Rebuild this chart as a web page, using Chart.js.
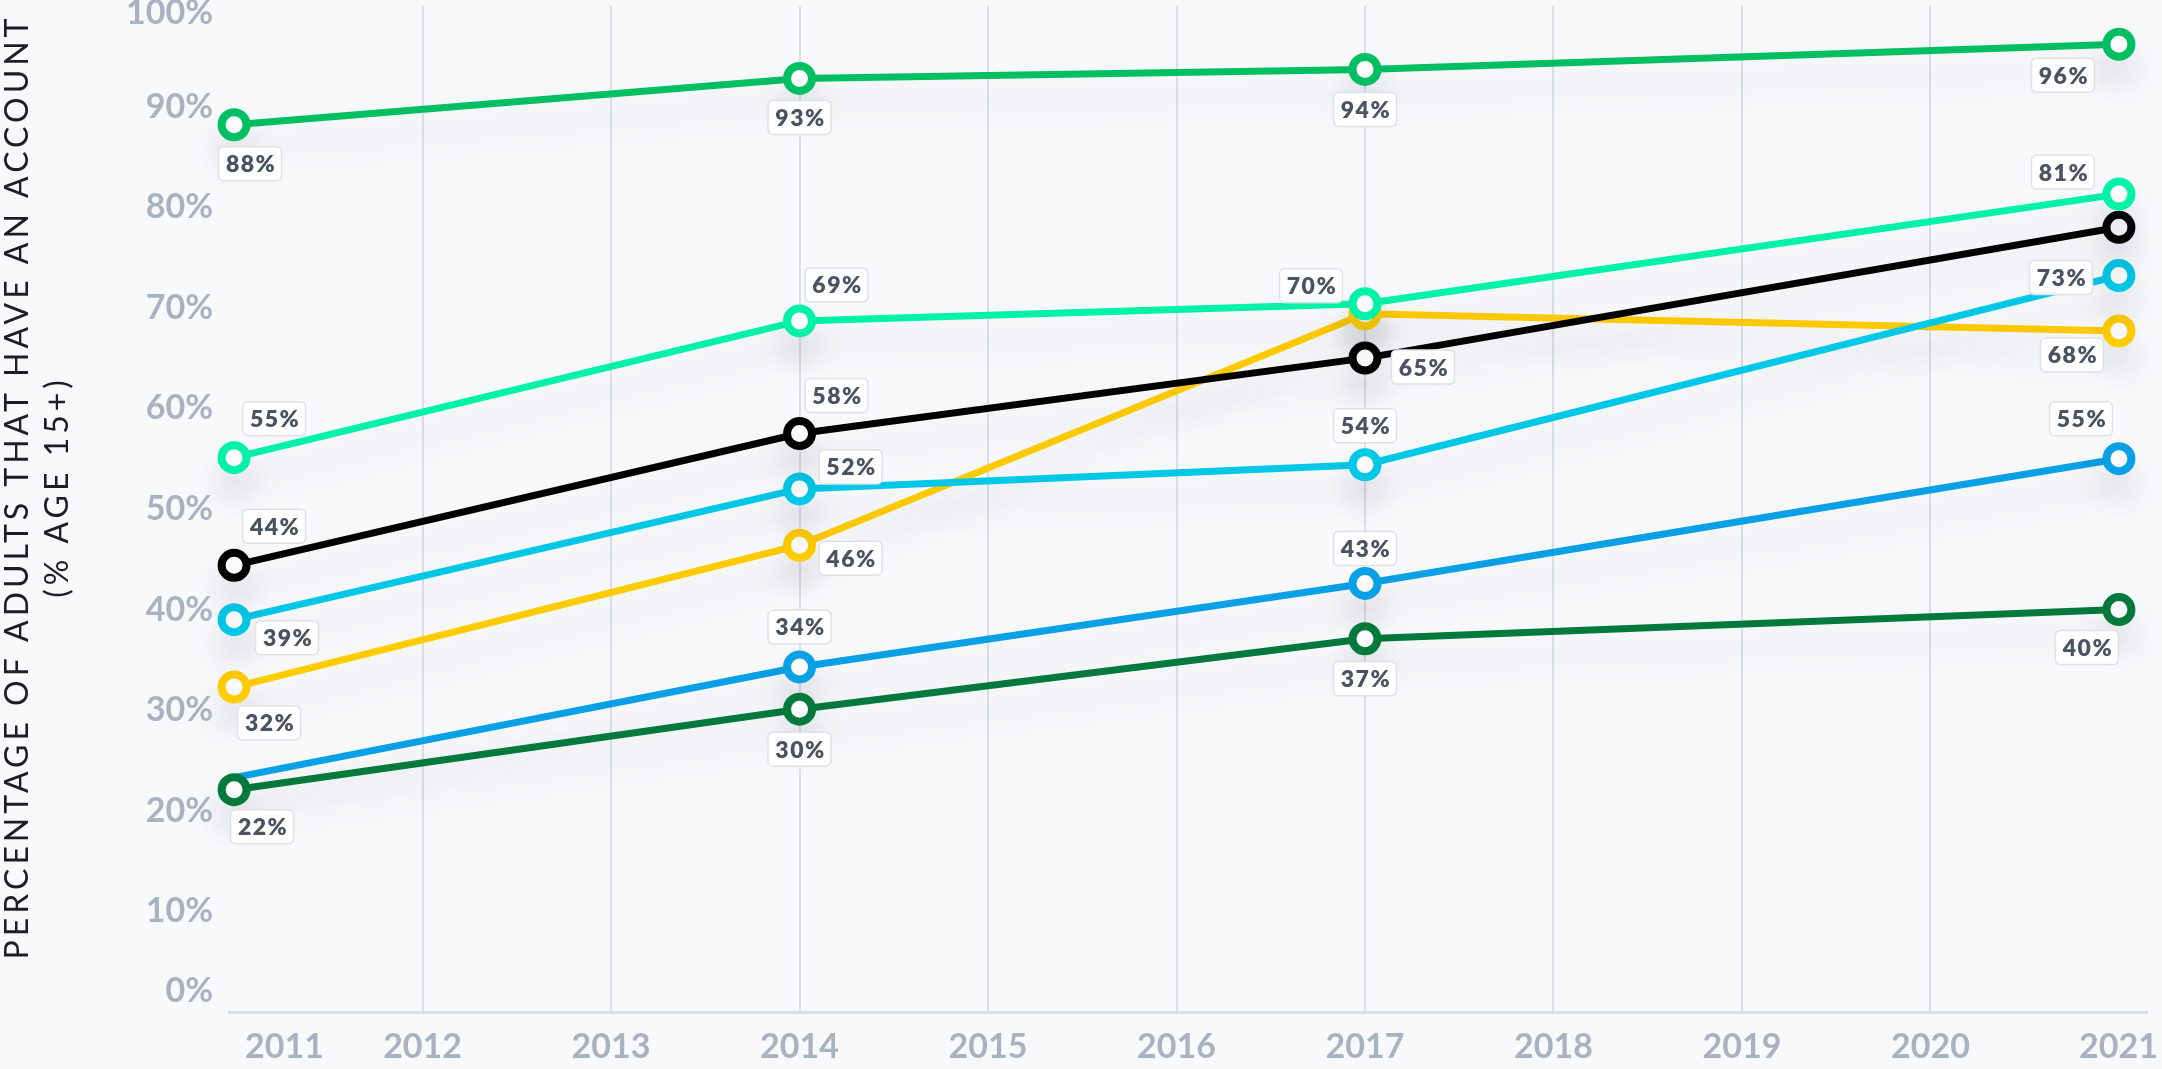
<!DOCTYPE html>
<html lang="en">
<head>
  <meta charset="UTF-8">
  <title>Account ownership</title>
  <style>
    html, body {
      margin: 0;
      padding: 0;
      background: #f8f9fb;
    }
    .chart-container {
      position: relative;
      width: 2162px;
      height: 1069px;
    }
  </style>
</head>
<body>
  <div class="chart-container">
    <canvas id="accountChart"></canvas>
  </div>

  <script src="https://cdn.jsdelivr.net/npm/chart.js"></script>
  <script>
    // survey years and axis ticks
    const years = [2011, 2014, 2017, 2021];
    const xTickYears = [2011, 2012, 2013, 2014, 2015, 2016, 2017, 2018, 2019, 2020, 2021];
    const yTickValues = [0, 10, 20, 30, 40, 50, 60, 70, 80, 90, 100];
    const yTitle = ['PERCENTAGE OF ADULTS THAT HAVE AN ACCOUNT', '(% AGE 15+)'];

    // share of adults with an account, one array per line
    const greenValues = [88.2, 92.8, 93.7, 96.2];
    const mintValues = [55.1, 68.7, 70.4, 81.3];
    const blackValues = [44.4, 57.5, 65.0, 78.0];
    const cyanValues = [39.0, 52.0, 54.4, 73.2];
    const darkGreenValues = [22.1, 30.1, 37.1, 40.0];
    const blueValues = [23.3, 34.3, 42.6, 55.0];
    const yellowValues = [32.3, 46.4, 69.4, 67.7];

    // where each value box sits relative to its point (null = no box)
    const greenLabelPos = [[16, 39], [0, 39], [0, 40], [-56, 31]];
    const mintLabelPos = [[40, -39], [37, -36], [-54, -18], [-56, -22]];
    const blackLabelPos = [[40, -39], [37, -38], [58, 9], null];
    const cyanLabelPos = [[53, 18], [51, -22], [0, -39], [-58, 2]];
    const darkGreenLabelPos = [[28, 37], [0, 40], [0, 40], [-32, 38]];
    const blueLabelPos = [null, [0, -40], [0, -35], [-38, -40]];
    const yellowLabelPos = [[35, 36], [51, 13], null, [-47, 24]];

    // the 2011 blue marker is not shown in the original
    const bluePointRadius = [0, 12.5, 12.5, 12.5];

    function makeSet(values, color, labelPos, radius) {
      return {
        data: years.map((yr, i) => ({ x: yr, y: values[i] })),
        borderColor: color,
        borderWidth: 7,
        pointRadius: radius || 12.5,
        pointHoverRadius: radius || 12.5,
        pointBorderWidth: 8,
        pointBackgroundColor: '#ffffff',
        pointBorderColor: color,
        tension: 0,
        clip: false,
        labelPos: labelPos
      };
    }

    // soft shadow under every line
    const lineShadow = {
      id: 'lineShadow',
      beforeDatasetDraw(chart) {
        const c = chart.ctx;
        c.save();
        c.shadowColor = 'rgba(60, 72, 95, 0.15)';
        c.shadowBlur = 34;
        c.shadowOffsetY = 24;
      },
      afterDatasetDraw(chart) {
        chart.ctx.restore();
      }
    };

    // white value boxes next to points
    const valueBoxes = {
      id: 'valueBoxes',
      afterDatasetsDraw(chart) {
        const c = chart.ctx;
        c.save();
        c.font = '800 23px Lato, sans-serif';
        c.letterSpacing = '1.5px';
        c.textAlign = 'center';
        c.textBaseline = 'middle';
        chart.data.datasets.forEach((ds, di) => {
          const meta = chart.getDatasetMeta(di);
          ds.data.forEach((d, i) => {
            const pos = ds.labelPos[i];
            if (!pos) return;
            const pt = meta.data[i];
            const cx = pt.x + pos[0];
            const cy = pt.y + pos[1];
            const text = Math.round(d.y) + '%';
            const w = 63;
            const h = 34;
            c.beginPath();
            c.roundRect(cx - w / 2, cy - h / 2, w, h, 5);
            c.fillStyle = '#ffffff';
            c.fill();
            c.lineWidth = 1.5;
            c.strokeStyle = '#dde2e8';
            c.stroke();
            c.fillStyle = '#4a5361';
            c.fillText(text, cx + 1, cy + 1);
          });
        });
        c.restore();
      }
    };

    // tick labels and rotated axis title
    const axisText = {
      id: 'axisText',
      afterDraw(chart) {
        const c = chart.ctx;
        const area = chart.chartArea;
        const xs = chart.scales.x;
        const ys = chart.scales.y;
        c.save();
        c.font = 'bold 34px Lato, sans-serif';
        c.fillStyle = '#a9b2c0';
        c.textBaseline = 'middle';

        c.textAlign = 'right';
        ys.ticks.forEach(t => {
          const py = Math.min(Math.max(ys.getPixelForValue(t.value), 13), area.bottom - 21);
          c.fillText(t.value + '%', 213, py);
        });

        c.textAlign = 'left';
        xs.ticks.forEach(t => {
          const text = String(t.value);
          const w = c.measureText(text).width;
          let left = xs.getPixelForValue(t.value) - w / 2;
          left = Math.max(left, 245);
          left = Math.min(left, 2158 - w);
          c.fillText(text, left, 1047);
        });

        c.font = '32px Lato, sans-serif';
        c.letterSpacing = '4px';
        c.fillStyle = '#1c1e22';
        c.textAlign = 'center';
        [18, 58].forEach((x, i) => {
          c.save();
          c.translate(x, 487);
          c.rotate(-Math.PI / 2);
          c.fillText(yTitle[i], 0, 0);
          c.restore();
        });
        c.restore();
      }
    };

    const hideEnds = ctx => (ctx.tick && (ctx.tick.value === 2011 || ctx.tick.value === 2021)) ? 'rgba(0,0,0,0)' : '#d9dfe5';

    const accountChart = new Chart(document.getElementById('accountChart'), {
      type: 'line',
      data: {
        datasets: [
          makeSet(greenValues, '#00bf63', greenLabelPos),
          makeSet(mintValues, '#00f2a4', mintLabelPos),
          makeSet(blackValues, '#000000', blackLabelPos),
          makeSet(cyanValues, '#00c8e6', cyanLabelPos),
          makeSet(darkGreenValues, '#03793c', darkGreenLabelPos),
          makeSet(blueValues, '#0aa0e6', blueLabelPos, bluePointRadius),
          makeSet(yellowValues, '#ffcc00', yellowLabelPos)
        ]
      },
      options: {
        responsive: true,
        maintainAspectRatio: false,
        animation: false,
        layout: { autoPadding: false, padding: { left: 229, right: 15, top: 6, bottom: 57 } },
        plugins: {
          legend: { display: false },
          tooltip: { enabled: false }
        },
        scales: {
          x: {
            type: 'linear',
            min: 2010.973,
            max: 2021.149,
            afterBuildTicks: scale => { scale.ticks = xTickYears.map(v => ({ value: v })); },
            ticks: { display: false },
            grid: { color: hideEnds, lineWidth: 2, drawTicks: false },
            border: { display: true, color: '#d9dfe5', width: 3 }
          },
          y: {
            min: 0,
            max: 100,
            afterBuildTicks: scale => { scale.ticks = yTickValues.map(v => ({ value: v })); },
            ticks: { display: false },
            grid: { display: false, drawTicks: false },
            border: { display: false }
          }
        }
      },
      plugins: [lineShadow, valueBoxes, axisText]
    });
  </script>
</body>
</html>
